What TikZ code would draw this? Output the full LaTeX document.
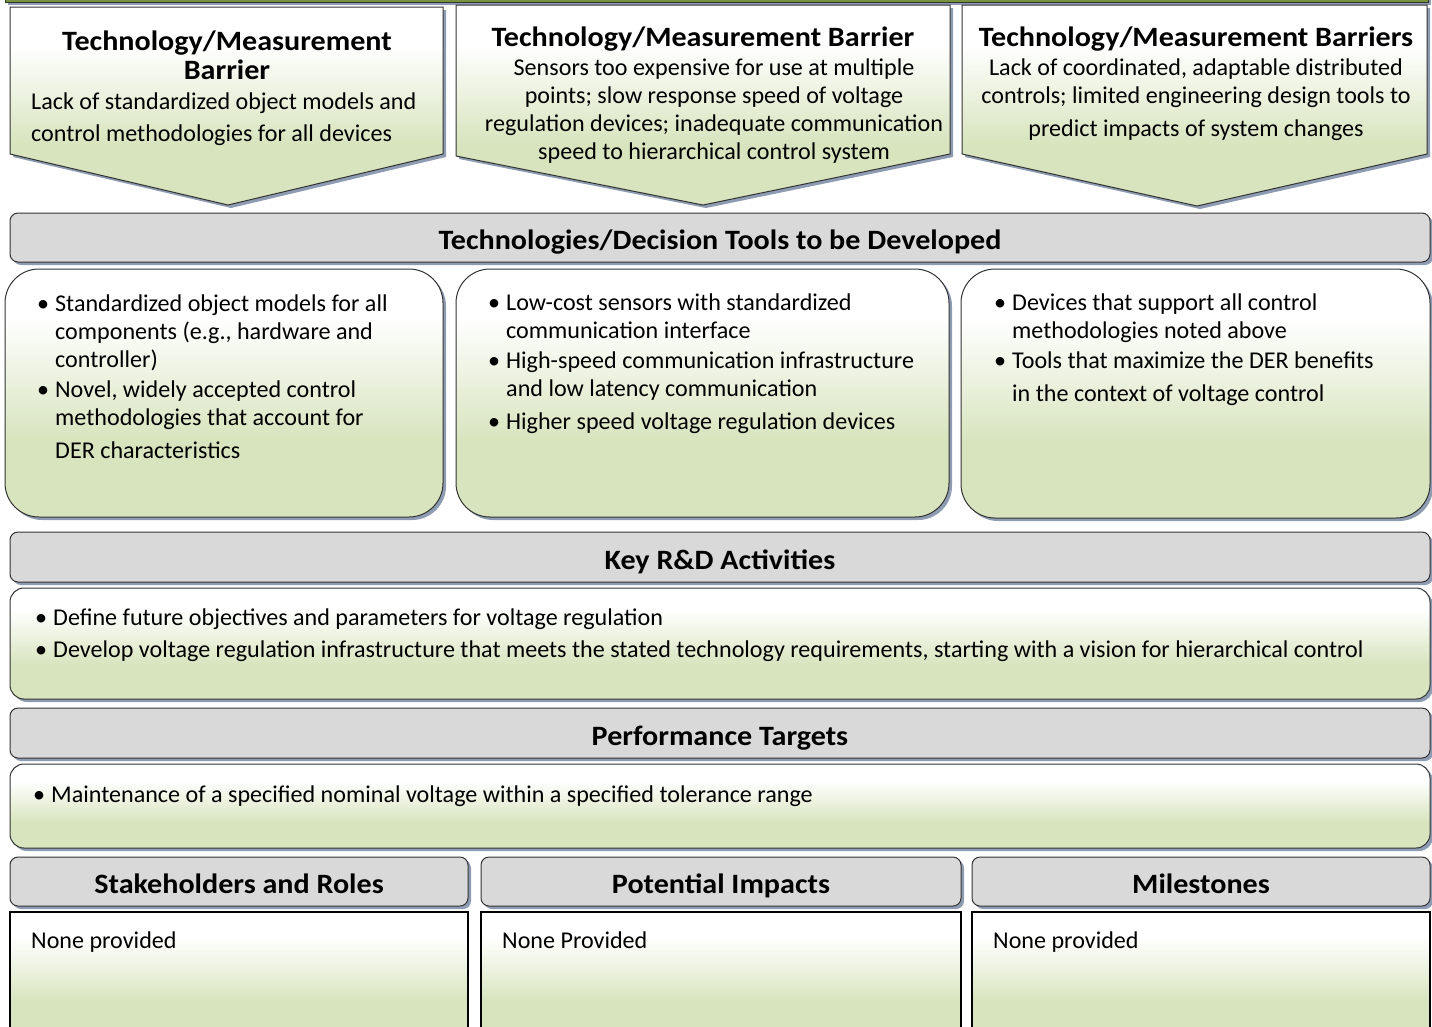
\documentclass[tikz,border=0pt]{standalone}
\usepackage{fontspec}
\setmainfont{Carlito}
\newfontfamily\titlefont[FakeStretch=1.075]{Carlito}
\usetikzlibrary{shadows}
\definecolor{palegreen}{HTML}{D7E4BD}
\definecolor{hdrgrey}{HTML}{D9D9D9}
\definecolor{shadowblue}{HTML}{8E9CB3}
\definecolor{olivebar}{HTML}{77933C}
\definecolor{edgegrey}{HTML}{333333}
\pgfdeclareverticalshading{paleshade}{100bp}{color(0bp)=(palegreen); color(25bp)=(palegreen); color(40bp)=(palegreen); color(65bp)=(white); color(100bp)=(white)}
\newcommand{\bodysize}{\fontsize{24.1}{28}\selectfont}
\newcommand{\titlesize}{\fontsize{28}{29}\selectfont\titlefont\bfseries}
\newcommand{\bul}{\makebox[18pt][l]{\textbullet}}
\tikzset{
  boxshadow/.style={drop shadow={shadow xshift=3pt, shadow yshift=-3pt, fill=shadowblue, opacity=1}},
  arrowbox/.style={draw=edgegrey, line width=1pt, shade, shading=paleshade, boxshadow},
  hdrbar/.style={draw=edgegrey, line width=1pt, fill=hdrgrey, rounded corners=8pt, boxshadow},
  bulletbox/.style={draw=edgegrey, line width=1pt, shade, shading=paleshade, rounded corners=34pt, boxshadow},
  widebox/.style={draw=edgegrey, line width=1pt, shade, shading=paleshade, rounded corners=14pt, boxshadow},
  plainbox/.style={draw=black, line width=2.5pt, shade, shading=paleshade},
  title/.style={font=\titlesize, inner sep=0pt, anchor=base},
  body/.style={font=\bodysize, inner sep=0pt, anchor=base west},
  bodyc/.style={font=\bodysize, inner sep=0pt, anchor=base},
}
\begin{document}
\begin{tikzpicture}[x=1pt,y=-1pt]
	\clip (0,0) rectangle (1432,1026);

	% green strip at the top
	\path[draw=edgegrey, fill=olivebar, line width=1pt, boxshadow] (5,-20) rectangle (1428,2);

	% barrier arrows
	\path[arrowbox] (10,7) -- (443,7) -- (443,154) -- (228,205) -- (10,154) -- cycle;
	\path[arrowbox] (456,5) -- (950,5) -- (950,154) -- (703,205) -- (456,156) -- cycle;
	\path[arrowbox] (962,5) -- (1427,5) -- (1427,154) -- (1197,206) -- (962,154) -- cycle;

	\node[title] (bar1t) at (227,50) {\begin{tabular}[t]{@{}c@{}}Technology/Measurement\\Barrier\end{tabular}};
	\node[body] (bar1b) at (31,109) {\begin{tabular}[t]{@{}l@{}}Lack of standardized object models and\\[4pt]control methodologies for all devices\end{tabular}};

	\node[title] (bar2t) at (703,46) {Technology/Measurement Barrier};
	\node[bodyc] (bar2b) at (714,75) {\begin{tabular}[t]{@{}c@{}}Sensors too expensive for use at multiple\\points; slow response speed of voltage\\regulation devices; inadequate communication\\speed to hierarchical control system\end{tabular}};

	\node[title] (bar3t) at (1196,46) {Technology/Measurement Barriers};
	\node[bodyc] (bar3b) at (1196,75) {\begin{tabular}[t]{@{}c@{}}Lack of coordinated, adaptable distributed\\controls; limited engineering design tools to\\[5pt]predict impacts of system changes\end{tabular}};

	% technologies
	\path[hdrbar] (10,213) rectangle (1430,262);
	\node[title] (toolst) at (720,249) {Technologies/Decision Tools to be Developed};

	\path[bulletbox] (5,269) rectangle (443,517);
	\path[bulletbox] (456,269) rectangle (949,517);
	\path[bulletbox] (961,269) rectangle (1430,518);

	\node[body] (tool1) at (37,311) {\begin{tabular}[t]{@{}l@{}l@{}}
		\bul & Standardized object models for all\\
		& components (e.g., hardware and\\
		& controller)\\[2pt]
		\bul & Novel, widely accepted control\\
		& methodologies that account for\\[5pt]
		& DER characteristics
	\end{tabular}};
	\node[body] (tool2) at (488,310) {\begin{tabular}[t]{@{}l@{}l@{}}
		\bul & Low-cost sensors with standardized\\
		& communication interface\\[2pt]
		\bul & High-speed communication infrastructure\\
		& and low latency communication\\[5pt]
		\bul & Higher speed voltage regulation devices
	\end{tabular}};
	\node[body] (tool3) at (994,310) {\begin{tabular}[t]{@{}l@{}l@{}}
		\bul & Devices that support all control\\
		& methodologies noted above\\[2pt]
		\bul & Tools that maximize the DER benefits\\[5pt]
		& in the context of voltage control
	\end{tabular}};

	% key activities
	\path[hdrbar] (10,532) rectangle (1430,582);
	\node[title] (actt) at (720,569) {Key R\&D Activities};
	\path[widebox] (10,588) rectangle (1430,699);
	\node[body] (actb) at (35,625) {\begin{tabular}[t]{@{}l@{}l@{}}
		\bul & Define future objectives and parameters for voltage regulation\\[4pt]
		\bul & Develop voltage regulation infrastructure that meets the stated technology requirements, starting with a vision for hierarchical control
	\end{tabular}};

	% targets
	\path[hdrbar] (10,708) rectangle (1430,758);
	\node[title] (perft) at (720,745) {Performance Targets};
	\path[widebox] (10,764) rectangle (1430,848);
	\node[body] (perfb) at (33,802) {\bul Maintenance of a specified nominal voltage within a specified tolerance range};

	% bottom row
	\path[hdrbar] (10,857) rectangle (468,906);
	\path[hdrbar] (481,857) rectangle (961,906);
	\path[hdrbar] (972,857) rectangle (1430,906);
	\node[title] (stakt) at (239,893) {Stakeholders and Roles};
	\node[title] (impt) at (721,893) {Potential Impacts};
	\node[title] (milt) at (1201,893) {Milestones};

	\path[plainbox] (10,912) rectangle (468,1040);
	\path[plainbox] (481,912) rectangle (961,1040);
	\path[plainbox] (972,912) rectangle (1430,1040);
	\node[body] (stakb) at (31,948) {None provided};
	\node[body] (impb) at (502,948) {None Provided};
	\node[body] (milb) at (993,948) {None provided};
\end{tikzpicture}
\end{document}
